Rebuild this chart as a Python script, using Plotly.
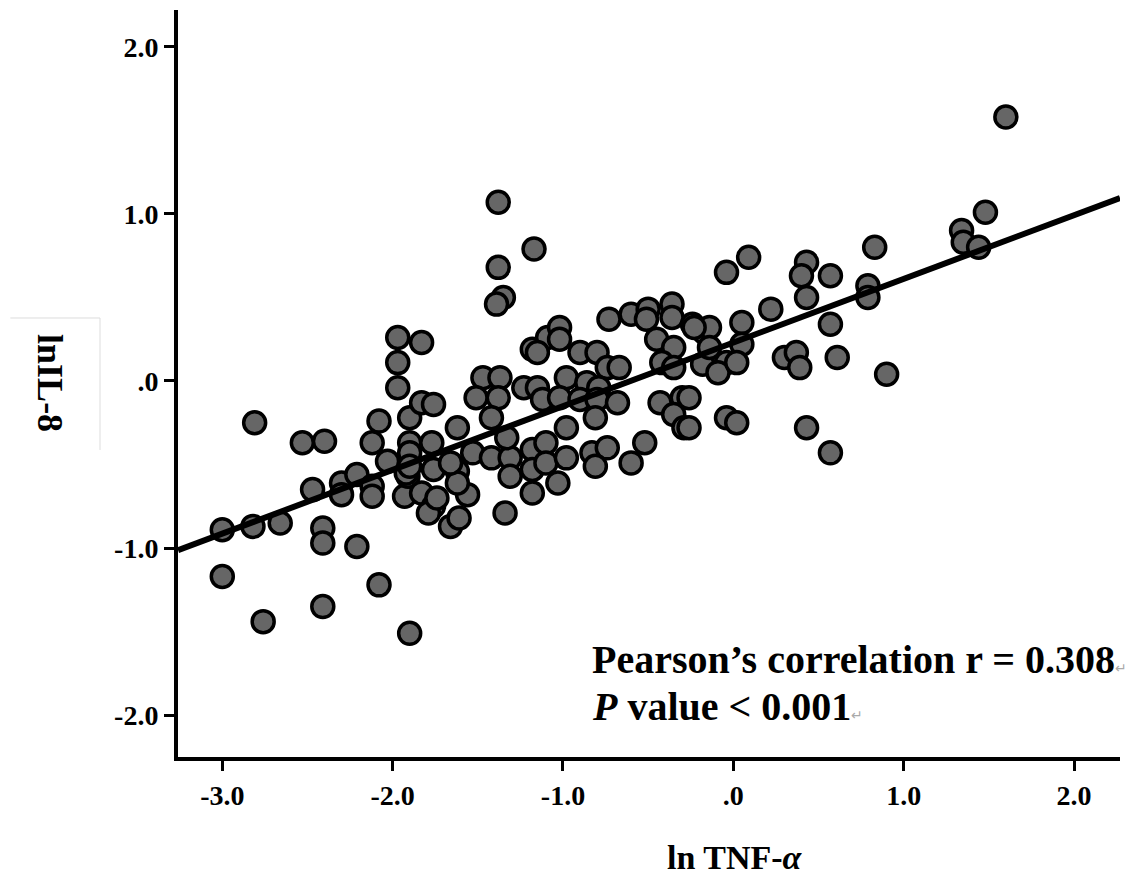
import plotly.graph_objects as go

# lnTNF-alpha (x) and lnIL-8 (y)
ln_tnf = [
    -2.81, -2.53, -2.40, -2.08, -1.90, -2.12, -1.90, -2.03, -1.90, -2.47,
    -2.30, -2.30, -2.21, -2.12, -2.12, -1.93, -1.91, -3.00, -2.82, -2.66,
    -2.41, -2.41, -2.21, -3.00, -2.76, -2.41, -2.08, -1.90,
    -1.97, -1.83, -1.97, -1.97, -1.83, -1.76, -1.77, -1.76, -1.92, -1.83,
    -1.76, -1.79, -1.66, -1.61, -1.56, -1.62, -1.62, -1.62, -1.66, -1.47,
    -1.37, -1.51, -1.38, -1.42, -1.53, -1.42, -1.31, -1.31, -1.34, -1.18,
    -1.09, -1.23, -1.15, -1.12, -1.18, -1.18, -1.18, -1.10, -1.10,
    -0.73, -0.60, -0.50, -0.51, -0.36, -0.36, -0.24, -0.17, -1.02, -1.02,
    -1.15, -0.90, -0.80, -0.45, -0.35, -0.42, -0.35, -0.18, -0.74, -0.67,
    -0.98, -0.86, -0.79, -1.02, -0.90, -0.80, -0.68, -0.81, -0.98, -0.43,
    -0.30, -0.35, -0.29, -0.98, -0.83, -0.74, -0.52, -0.81, -0.60, -1.03,
    0.83, 0.09, -0.04, 0.43, 0.40, 0.57, 0.43, 0.79, 0.79, 0.22,
    0.05, -0.14, -0.23, 0.57, 0.05, -0.14, -0.04, -0.09, 0.02, 0.30,
    0.37, 0.39, 0.61, 0.90, -0.26, -0.26, -0.04, 0.02, 0.43, 0.57,
    1.60, 1.48, 1.34, 1.35, 1.44,
    -1.38, -1.17, -1.38, -1.35, -1.39,
    -1.33, -1.74, -1.90,
]
ln_il8 = [
    -0.25, -0.37, -0.36, -0.24, -0.22, -0.37, -0.37, -0.48, -0.43, -0.65,
    -0.61, -0.68, -0.56, -0.63, -0.69, -0.69, -0.57, -0.89, -0.87, -0.85,
    -0.88, -0.97, -0.99, -1.17, -1.44, -1.35, -1.22, -1.51,
    0.26, 0.23, 0.11, -0.04, -0.13, -0.14, -0.37, -0.53, -0.55, -0.67,
    -0.75, -0.79, -0.87, -0.82, -0.68, -0.54, -0.61, -0.28, -0.49, 0.02,
    0.02, -0.10, -0.10, -0.22, -0.43, -0.46, -0.46, -0.57, -0.79, 0.19,
    0.26, -0.04, -0.04, -0.11, -0.41, -0.53, -0.67, -0.37, -0.49,
    0.37, 0.40, 0.43, 0.37, 0.46, 0.38, 0.34, 0.29, 0.32, 0.25,
    0.17, 0.17, 0.17, 0.25, 0.20, 0.11, 0.08, 0.10, 0.08, 0.08,
    0.02, -0.01, -0.04, -0.10, -0.11, -0.11, -0.13, -0.22, -0.28, -0.13,
    -0.10, -0.20, -0.28, -0.46, -0.43, -0.40, -0.37, -0.51, -0.49, -0.61,
    0.80, 0.74, 0.65, 0.71, 0.63, 0.63, 0.50, 0.57, 0.50, 0.43,
    0.35, 0.32, 0.32, 0.34, 0.22, 0.20, 0.11, 0.05, 0.11, 0.14,
    0.17, 0.08, 0.14, 0.04, -0.10, -0.28, -0.22, -0.25, -0.28, -0.43,
    1.58, 1.01, 0.90, 0.83, 0.80,
    1.07, 0.79, 0.68, 0.50, 0.46,
    -0.34, -0.70, -0.51,
]

# fitted regression line parameters
fit_slope = 0.381
fit_intercept = 0.23
x_range = [-3.26, 2.27]
y_range = [-2.25, 2.22]

x_tickvals = [-3.0, -2.0, -1.0, 0.0, 1.0, 2.0]
x_ticktext = ["-3.0", "-2.0", "-1.0", ".0", "1.0", "2.0"]
y_tickvals = [-2.0, -1.0, 0.0, 1.0, 2.0]
y_ticktext = ["-2.0", "-1.0", ".0", "1.0", "2.0"]

FONT = "Liberation Serif"

fig = go.Figure()
fig.add_trace(go.Scatter(
    x=ln_tnf, y=ln_il8, mode="markers",
    marker=dict(size=22, color="#666666", line=dict(color="black", width=3.5)),
    showlegend=False, cliponaxis=False,
))
fig.add_trace(go.Scatter(
    x=x_range, y=[fit_intercept + fit_slope * v for v in x_range],
    mode="lines", line=dict(color="black", width=6), showlegend=False,
))

axis_common = dict(
    showgrid=False, zeroline=False, showline=True, linecolor="black", linewidth=4,
    ticks="outside", ticklen=10, tickwidth=3, tickcolor="black",
    tickfont=dict(family=FONT, size=28, color="black", weight="bold"),
)
fig.update_xaxes(range=x_range, tickvals=x_tickvals, ticktext=x_ticktext, **axis_common)
fig.update_yaxes(range=y_range, tickvals=y_tickvals, ticktext=y_ticktext, **axis_common)

fig.update_layout(
    width=1136, height=869,
    margin=dict(l=170, r=24, t=2, b=120),
    plot_bgcolor="white", paper_bgcolor="white",
    font=dict(family=FONT, color="black"),
)

ret = '<span style="font-size:14px;color:#aaaaaa">↵</span>'
fig.add_annotation(
    xref="paper", yref="paper", x=0.4374, y=0.130, xanchor="left", yanchor="middle",
    text="<b>Pearson’s correlation r = 0.308</b>" + ret, showarrow=False,
    font=dict(family=FONT, size=40, color="black"),
)
fig.add_annotation(
    xref="paper", yref="paper", x=0.4374, y=0.068, xanchor="left", yanchor="middle",
    text="<b><i>P</i> value &lt; 0.001</b>" + ret, showarrow=False,
    font=dict(family=FONT, size=40, color="black"),
)
fig.add_annotation(
    xref="paper", yref="paper", x=0.591, y=-0.135, xanchor="center", yanchor="middle",
    text="<b>ln TNF-<i>α</i></b>", showarrow=False,
    font=dict(family=FONT, size=34, color="black"),
)
fig.add_annotation(
    xref="paper", yref="paper", x=-0.136, y=0.5007, xanchor="center", yanchor="middle",
    text="<b>lnIL-8</b>", showarrow=False, textangle=90,
    font=dict(family=FONT, size=36, color="black"),
)
# faint frame fragment around the y label, as in the original
fig.add_shape(type="line", xref="paper", yref="paper", x0=-0.178, x1=-0.0828, y0=0.5877, y1=0.5877,
              line=dict(color="#dddddd", width=1))
fig.add_shape(type="line", xref="paper", yref="paper", x0=-0.0828, x1=-0.0828, y0=0.5877, y1=0.411,
              line=dict(color="#dddddd", width=1))

fig.write_html("out.html")
